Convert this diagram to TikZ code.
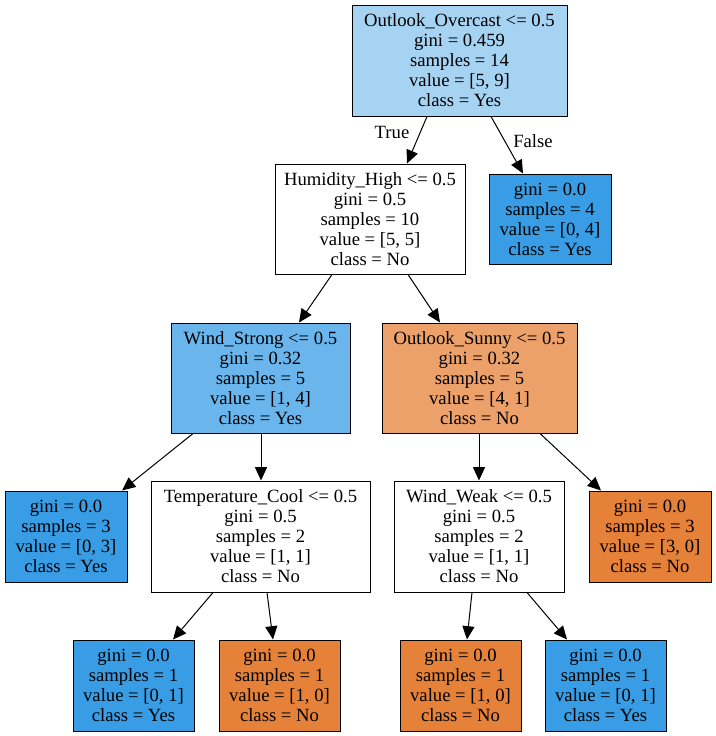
\documentclass[tikz,border=0pt]{standalone}
\usepackage{fontspec}
\setmainfont{Liberation Serif}
\usetikzlibrary{arrows.meta}
\definecolor{rootblue}{HTML}{A7D3F3}
\definecolor{midblue}{HTML}{6AB6EC}
\definecolor{pureblue}{HTML}{399DE5}
\definecolor{midorange}{HTML}{ECA06A}
\definecolor{pureorange}{HTML}{E58139}
\begin{document}
\begin{tikzpicture}[x=0.75pt,y=-0.75pt,
  box/.style={draw=black, line width=0.75pt, rectangle, align=center, inner sep=0pt,
    font=\fontsize{14pt}{15pt}\selectfont},
  sz/.style 2 args={minimum width=#1*0.75pt, minimum height=#2*0.75pt},
  edge/.style={draw=black, line width=0.75pt, -{Triangle[length=10pt,width=9pt]}},
  lbl/.style={font=\fontsize{14pt}{15pt}\selectfont, inner sep=0pt}]
\useasboundingbox[fill=white] (0,0) rectangle (716,736);

\node[box, sz={215}{111}, fill=rootblue] (root) at (459.5,60.5)
  {Outlook\_Overcast <= 0.5\\gini = 0.459\\samples = 14\\value = [5, 9]\\class = Yes};
\node[box, sz={122}{90}, fill=pureblue] (f) at (550,219)
  {gini = 0.0\\samples = 4\\value = [0, 4]\\class = Yes};
\node[box, sz={190}{110}, fill=white] (hum) at (370,219)
  {Humidity\_High <= 0.5\\gini = 0.5\\samples = 10\\value = [5, 5]\\class = No};
\node[box, sz={179}{110}, fill=midblue] (ws) at (260.5,378)
  {Wind\_Strong <= 0.5\\gini = 0.32\\samples = 5\\value = [1, 4]\\class = Yes};
\node[box, sz={195}{110}, fill=midorange] (sun) at (479.5,378)
  {Outlook\_Sunny <= 0.5\\gini = 0.32\\samples = 5\\value = [4, 1]\\class = No};
\node[box, sz={122}{91}, fill=pureblue] (la) at (66,536.5)
  {gini = 0.0\\samples = 3\\value = [0, 3]\\class = Yes};
\node[box, sz={219}{111}, fill=white] (temp) at (260.5,536.5)
  {Temperature\_Cool <= 0.5\\gini = 0.5\\samples = 2\\value = [1, 1]\\class = No};
\node[box, sz={170}{111}, fill=white] (weak) at (479,536.5)
  {Wind\_Weak <= 0.5\\gini = 0.5\\samples = 2\\value = [1, 1]\\class = No};
\node[box, sz={122}{91}, fill=pureorange] (lb) at (650,536.5)
  {gini = 0.0\\samples = 3\\value = [3, 0]\\class = No};
\node[box, sz={121}{91}, fill=pureblue] (b1) at (133.5,685.5)
  {gini = 0.0\\samples = 1\\value = [0, 1]\\class = Yes};
\node[box, sz={121}{91}, fill=pureorange] (b2) at (279.5,685.5)
  {gini = 0.0\\samples = 1\\value = [1, 0]\\class = No};
\node[box, sz={121}{91}, fill=pureorange] (b3) at (460.5,685.5)
  {gini = 0.0\\samples = 1\\value = [1, 0]\\class = No};
\node[box, sz={121}{91}, fill=pureblue] (b4) at (605.5,685.5)
  {gini = 0.0\\samples = 1\\value = [0, 1]\\class = Yes};

\draw[edge] ([xshift=-32.5*0.75pt]root.south) -- ([xshift=37*0.75pt]hum.north);
\draw[edge] ([xshift=31.5*0.75pt]root.south) -- ([xshift=-27*0.75pt]f.north);
\draw[edge] ([xshift=-38*0.75pt]hum.south) -- ([xshift=38.5*0.75pt]ws.north);
\draw[edge] ([xshift=38*0.75pt]hum.south) -- ([xshift=-39.5*0.75pt]sun.north);
\draw[edge] ([xshift=-67.5*0.75pt]ws.south) -- ([xshift=56*0.75pt]la.north);
\draw[edge] ([xshift=0.5*0.75pt]ws.south) -- ([xshift=0.5*0.75pt]temp.north);
\draw[edge] ([xshift=-0.5*0.75pt]sun.south) -- (weak.north);
\draw[edge] ([xshift=60.5*0.75pt]sun.south) -- ([xshift=-49*0.75pt]lb.north);
\draw[edge] ([xshift=-47.5*0.75pt]temp.south) -- ([xshift=39.5*0.75pt]b1.north);
\draw[edge] ([xshift=6.5*0.75pt]temp.south) -- ([xshift=-6.5*0.75pt]b2.north);
\draw[edge] ([xshift=-7*0.75pt]weak.south) -- ([xshift=6.5*0.75pt]b3.north);
\draw[edge] ([xshift=48*0.75pt]weak.south) -- ([xshift=-38.5*0.75pt]b4.north);

\node[lbl] (tl) at (392,132) {True};
\node[lbl] (fl) at (533,141) {False};
\end{tikzpicture}
\end{document}
